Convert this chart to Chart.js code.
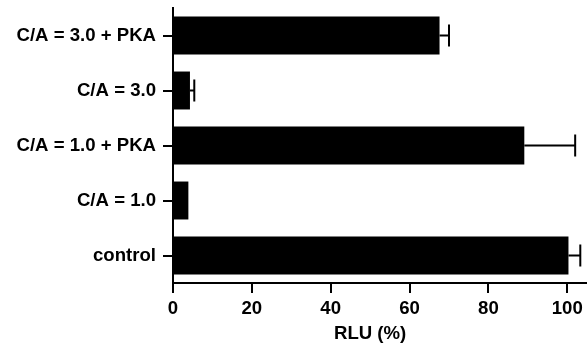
<!DOCTYPE html>
<html>
<head>
<meta charset="utf-8">
<script src="https://cdn.jsdelivr.net/npm/chart.js@4/dist/chart.umd.min.js"></script>
<style>
  html, body { margin: 0; padding: 0; background: #fff; }
  #wrap { width: 587px; height: 352px; position: relative; }
</style>
</head>
<body>
<div id="wrap"><canvas id="rluChart"></canvas></div>
<script>
// categories top -> bottom
const labels = ["C/A = 3.0 + PKA", "C/A = 3.0", "C/A = 1.0 + PKA", "C/A = 1.0", "control"];
const rlu = [67.6, 4.3, 89.1, 3.9, 100.3];
const rluErr = [2.4, 1.1, 12.9, 0, 3.0]; // upper error only
const xTicks = [0, 20, 40, 60, 80, 100];
const axisTitle = "RLU (%)";

const FONT = "'Liberation Sans', Arial, Helvetica, sans-serif";
const FSIZE = 18.6;

// upper error bars with caps
const errorBars = {
  id: "errorBars",
  afterDatasetsDraw(chart) {
    const { ctx, scales } = chart;
    const meta = chart.getDatasetMeta(0);
    ctx.save();
    ctx.strokeStyle = "#000";
    ctx.lineWidth = 2;
    meta.data.forEach((bar, i) => {
      if (!rluErr[i]) return;
      const x0 = scales.x.getPixelForValue(rlu[i]);
      const x1 = scales.x.getPixelForValue(rlu[i] + rluErr[i]);
      const y = bar.y;
      ctx.beginPath();
      ctx.moveTo(x0, y);
      ctx.lineTo(x1, y);
      ctx.moveTo(x1, y - 11);
      ctx.lineTo(x1, y + 11);
      ctx.stroke();
    });
    ctx.restore();
  },
};

// axis title centred under 0..100 part of the axis
const xTitle = {
  id: "xTitle",
  afterDraw(chart) {
    const { ctx, scales } = chart;
    ctx.save();
    ctx.font = "bold " + FSIZE + "px " + FONT;
    ctx.fillStyle = "#000";
    ctx.textAlign = "center";
    ctx.textBaseline = "middle";
    ctx.fillText(axisTitle, scales.x.getPixelForValue(50), 334);
    ctx.restore();
  },
};

new Chart(document.getElementById("rluChart"), {
  type: "bar",
  data: {
    labels,
    datasets: [
      {
        data: rlu,
        backgroundColor: "#000",
        borderWidth: 0,
        categoryPercentage: 1,
        barPercentage: 0.69,
      },
    ],
  },
  options: {
    indexAxis: "y",
    responsive: true,
    maintainAspectRatio: false,
    animation: false,
    layout: { padding: { top: 8, right: 0, left: 0, bottom: 0 } },
    plugins: {
      legend: { display: false },
      tooltip: { enabled: false },
    },
    scales: {
      x: {
        min: 0,
        max: 105,
        afterFit: (s) => { s.height = 69; s.paddingRight = 0; s.paddingLeft = 0; },
        afterBuildTicks: (s) => { s.ticks = xTicks.map((v) => ({ value: v })); },
        ticks: {
          color: "#000",
          padding: 5,
          font: { family: FONT, size: FSIZE, weight: "bold" },
        },
        grid: {
          drawOnChartArea: false,
          drawTicks: true,
          tickLength: 10,
          color: "#000",
          lineWidth: 2,
        },
        border: { display: true, color: "#000", width: 2 },
      },
      y: {
        afterFit: (s) => { s.width = 173; s.paddingTop = 0; s.paddingBottom = 0; },
        ticks: {
          color: "#000",
          padding: 7,
          font: { family: FONT, size: FSIZE, weight: "bold" },
        },
        grid: {
          offset: false,
          drawOnChartArea: false,
          drawTicks: true,
          tickLength: 10,
          color: "#000",
          lineWidth: 2,
        },
        border: { display: true, color: "#000", width: 2 },
      },
    },
  },
  plugins: [errorBars, xTitle],
});
</script>
</body>
</html>
